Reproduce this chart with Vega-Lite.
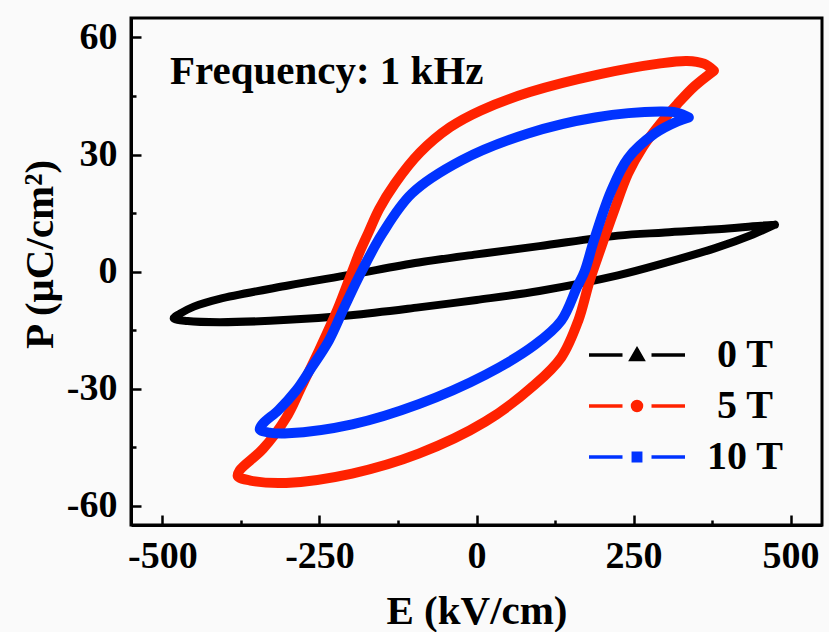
{
  "$schema": "https://vega.github.io/schema/vega-lite/v6.json",
  "width": 691,
  "height": 507,
  "autosize": {"type": "none"},
  "padding": {"left": 131, "top": 18, "right": 7, "bottom": 107},
  "background": "#fafafa",
  "config": {
    "view": {"stroke": "#000000", "strokeWidth": 3},
    "font": "Liberation Serif",
    "axis": {
      "grid": false,
      "domainColor": "#000000",
      "domainWidth": 3,
      "tickColor": "#000000",
      "tickWidth": 2.5,
      "labelFont": "Liberation Serif",
      "labelFontWeight": "bold",
      "labelColor": "#000000",
      "labelFontSize": 38,
      "titleFont": "Liberation Serif",
      "titleFontWeight": "bold",
      "titleFontSize": 41,
      "titleColor": "#000000"
    }
  },
  "datasets": {
    "loops": [
      {"B": "0 T", "i": 0, "E": 475, "P": 12},
      {"B": "0 T", "i": 1, "E": 440, "P": 11.6},
      {"B": "0 T", "i": 2, "E": 400, "P": 11.0},
      {"B": "0 T", "i": 3, "E": 300, "P": 10.0},
      {"B": "0 T", "i": 4, "E": 225, "P": 9.2},
      {"B": "0 T", "i": 5, "E": 100, "P": 6.5},
      {"B": "0 T", "i": 6, "E": 0, "P": 4.4},
      {"B": "0 T", "i": 7, "E": -92, "P": 2.3},
      {"B": "0 T", "i": 8, "E": -200, "P": -0.8},
      {"B": "0 T", "i": 9, "E": -300, "P": -3.6},
      {"B": "0 T", "i": 10, "E": -409, "P": -7},
      {"B": "0 T", "i": 11, "E": -450, "P": -9.0},
      {"B": "0 T", "i": 12, "E": -472, "P": -10.8},
      {"B": "0 T", "i": 13, "E": -482, "P": -12},
      {"B": "0 T", "i": 14, "E": -460, "P": -12.7},
      {"B": "0 T", "i": 15, "E": -409, "P": -13.0},
      {"B": "0 T", "i": 16, "E": -300, "P": -12.4},
      {"B": "0 T", "i": 17, "E": -200, "P": -11.2},
      {"B": "0 T", "i": 18, "E": -92, "P": -9.2},
      {"B": "0 T", "i": 19, "E": 0, "P": -7.3},
      {"B": "0 T", "i": 20, "E": 100, "P": -5.0},
      {"B": "0 T", "i": 21, "E": 225, "P": -1.0},
      {"B": "0 T", "i": 22, "E": 300, "P": 2.2},
      {"B": "0 T", "i": 23, "E": 380, "P": 6.0},
      {"B": "0 T", "i": 24, "E": 440, "P": 9.5},
      {"B": "0 T", "i": 25, "E": 475, "P": 12},

      {"B": "5 T", "i": 0, "E": 378, "P": 51.5},
      {"B": "5 T", "i": 1, "E": 362, "P": 53.3},
      {"B": "5 T", "i": 2, "E": 335, "P": 54.0},
      {"B": "5 T", "i": 3, "E": 290, "P": 53.3},
      {"B": "5 T", "i": 4, "E": 197, "P": 50.6},
      {"B": "5 T", "i": 5, "E": 85, "P": 46.0},
      {"B": "5 T", "i": 6, "E": 7, "P": 41.3},
      {"B": "5 T", "i": 7, "E": -42, "P": 37.0},
      {"B": "5 T", "i": 8, "E": -90, "P": 30.5},
      {"B": "5 T", "i": 9, "E": -130, "P": 22.5},
      {"B": "5 T", "i": 10, "E": -155, "P": 16},
      {"B": "5 T", "i": 11, "E": -172, "P": 10},
      {"B": "5 T", "i": 12, "E": -186, "P": 5},
      {"B": "5 T", "i": 13, "E": -198, "P": 0},
      {"B": "5 T", "i": 14, "E": -222, "P": -10},
      {"B": "5 T", "i": 15, "E": -250, "P": -20},
      {"B": "5 T", "i": 16, "E": -280, "P": -30},
      {"B": "5 T", "i": 17, "E": -303, "P": -37.5},
      {"B": "5 T", "i": 18, "E": -340, "P": -45.5},
      {"B": "5 T", "i": 19, "E": -377, "P": -51},
      {"B": "5 T", "i": 20, "E": -380, "P": -52.5},
      {"B": "5 T", "i": 21, "E": -360, "P": -53.6},
      {"B": "5 T", "i": 22, "E": -303, "P": -54.2},
      {"B": "5 T", "i": 23, "E": -198, "P": -51.8},
      {"B": "5 T", "i": 24, "E": -92, "P": -46.7},
      {"B": "5 T", "i": 25, "E": 14, "P": -38.5},
      {"B": "5 T", "i": 26, "E": 93, "P": -29},
      {"B": "5 T", "i": 27, "E": 135, "P": -22},
      {"B": "5 T", "i": 28, "E": 162, "P": -12.6},
      {"B": "5 T", "i": 29, "E": 180, "P": -2.5},
      {"B": "5 T", "i": 30, "E": 198, "P": 6},
      {"B": "5 T", "i": 31, "E": 220, "P": 16},
      {"B": "5 T", "i": 32, "E": 241, "P": 25},
      {"B": "5 T", "i": 33, "E": 265, "P": 32},
      {"B": "5 T", "i": 34, "E": 293, "P": 38},
      {"B": "5 T", "i": 35, "E": 320, "P": 43},
      {"B": "5 T", "i": 36, "E": 347, "P": 47.5},
      {"B": "5 T", "i": 37, "E": 378, "P": 51.5},

      {"B": "10 T", "i": 0, "E": 338, "P": 39.5},
      {"B": "10 T", "i": 1, "E": 320, "P": 40.7},
      {"B": "10 T", "i": 2, "E": 293, "P": 41.0},
      {"B": "10 T", "i": 3, "E": 189, "P": 39.5},
      {"B": "10 T", "i": 4, "E": 82, "P": 35.4},
      {"B": "10 T", "i": 5, "E": -24, "P": 28.5},
      {"B": "10 T", "i": 6, "E": -103, "P": 20},
      {"B": "10 T", "i": 7, "E": -150, "P": 9.7},
      {"B": "10 T", "i": 8, "E": -183, "P": 0},
      {"B": "10 T", "i": 9, "E": -210, "P": -9},
      {"B": "10 T", "i": 10, "E": -235, "P": -17.7},
      {"B": "10 T", "i": 11, "E": -262, "P": -24.5},
      {"B": "10 T", "i": 12, "E": -287, "P": -30.5},
      {"B": "10 T", "i": 13, "E": -315, "P": -35.5},
      {"B": "10 T", "i": 14, "E": -340, "P": -39},
      {"B": "10 T", "i": 15, "E": -345, "P": -40.5},
      {"B": "10 T", "i": 16, "E": -330, "P": -41.3},
      {"B": "10 T", "i": 17, "E": -300, "P": -41.5},
      {"B": "10 T", "i": 18, "E": -198, "P": -39.2},
      {"B": "10 T", "i": 19, "E": -92, "P": -34},
      {"B": "10 T", "i": 20, "E": 14, "P": -26.5},
      {"B": "10 T", "i": 21, "E": 93, "P": -18.8},
      {"B": "10 T", "i": 22, "E": 135, "P": -12.6},
      {"B": "10 T", "i": 23, "E": 160, "P": -4},
      {"B": "10 T", "i": 24, "E": 172, "P": 0},
      {"B": "10 T", "i": 25, "E": 187, "P": 8},
      {"B": "10 T", "i": 26, "E": 214, "P": 20.5},
      {"B": "10 T", "i": 27, "E": 241, "P": 29},
      {"B": "10 T", "i": 28, "E": 284, "P": 35.4},
      {"B": "10 T", "i": 29, "E": 320, "P": 38.5},
      {"B": "10 T", "i": 30, "E": 338, "P": 39.5}
    ]
  },
  "layer": [
    {
      "data": {"name": "loops"},
      "transform": [{"filter": "datum.B === '0 T'"}],
      "mark": {"type": "line", "interpolate": "catmull-rom", "strokeJoin": "round", "strokeCap": "round", "strokeWidth": 8},
      "encoding": {
        "x": {
          "field": "E", "type": "quantitative",
          "scale": {"domain": [-550, 550], "nice": false, "zero": false},
          "axis": {"orient": "bottom", "values": [-500, -250, 0, 250, 500], "ticks": false, "labelPadding": 12, "labelExpr": "'' + datum.value", "title": "E (kV/cm)", "titlePadding": 16}
        },
        "y": {
          "field": "P", "type": "quantitative",
          "scale": {"domain": [-65, 65], "nice": false, "zero": false},
          "axis": {"orient": "left", "values": [-60, -30, 0, 30, 60], "ticks": false, "labelPadding": 14, "labelExpr": "'' + datum.value", "title": "P (μC/cm²)", "titleX": -79, "titleY": 236, "titleBaseline": "alphabetic", "titleAngle": -90}
        },
        "color": {
          "field": "B", "type": "nominal",
          "scale": {"domain": ["0 T", "5 T", "10 T"], "range": ["#000000", "#ff2200", "#0033ff"]},
          "legend": {
            "orient": "none", "legendX": 486, "legendY": 317, "title": null, "padding": 0,
            "labelFont": "Liberation Serif", "labelFontSize": 40, "labelFontWeight": "bold", "labelColor": "#000000",
            "labelAlign": "center", "labelOffset": 88, "rowPadding": 11,
            "symbolSize": 400, "symbolStrokeWidth": 3.5,
            "encode": {
              "symbols": {
                "update": {
                  "shape": {"signal": "datum.value === '0 T' ? 'M-4.8,0H-1.45M1.45,0H4.8M0,-0.55L0.58,0.45H-0.58Z' : datum.value === '5 T' ? 'M-4.8,0H-1.45M1.45,0H4.8M0.45,0A0.45,0.45 0 1,1 -0.45,0A0.45,0.45 0 1,1 0.45,0Z' : 'M-4.8,0H-1.45M1.45,0H4.8M-0.37,-0.37H0.37V0.37H-0.37Z'"},
                  "fill": {"scale": "color", "field": "value"},
                  "stroke": {"scale": "color", "field": "value"},
                  "strokeWidth": {"value": 3.5},
                  "opacity": {"value": 1}
                }
              }
            }
          }
        },
        "order": {"field": "i", "type": "quantitative"}
      }
    },
    {
      "data": {"name": "loops"},
      "transform": [{"filter": "datum.B !== '0 T'"}],
      "mark": {"type": "line", "interpolate": "catmull-rom", "strokeJoin": "round", "strokeCap": "round", "strokeWidth": 10},
      "encoding": {
        "x": {"field": "E", "type": "quantitative", "axis": null},
        "y": {"field": "P", "type": "quantitative", "axis": null},
        "color": {"field": "B", "type": "nominal"},
        "order": {"field": "i", "type": "quantitative"}
      }
    },
    {
      "data": {"values": [{}]},
      "mark": {"type": "text", "text": "Frequency: 1 kHz", "align": "left", "baseline": "alphabetic", "font": "Liberation Serif", "fontWeight": "bold", "fontSize": 41, "color": "#000000"},
      "encoding": {
        "x": {"datum": -488, "type": "quantitative", "axis": {"orient": "bottom", "values": [-500, -250, 0, 250, 500], "offset": -10, "tickSize": 10, "labels": false, "domain": false, "title": null}},
        "y": {"datum": 48.2, "type": "quantitative", "axis": {"orient": "left", "values": [-60, -30, 0, 30, 60], "offset": -10, "tickSize": 10, "labels": false, "domain": false, "title": null}}
      }
    },
    {
      "data": {"values": [{}]},
      "mark": {"type": "text", "text": "", "fontSize": 1},
      "encoding": {
        "x": {"datum": 0, "type": "quantitative", "axis": {"orient": "bottom", "values": [-375, -125, 125, 375], "offset": -5, "tickSize": 5, "labels": false, "domain": false, "title": null}},
        "y": {"datum": 0, "type": "quantitative", "axis": {"orient": "left", "values": [-45, -15, 15, 45], "offset": -5, "tickSize": 5, "labels": false, "domain": false, "title": null}}
      }
    }
  ],
  "resolve": {"axis": {"x": "independent", "y": "independent"}}
}
